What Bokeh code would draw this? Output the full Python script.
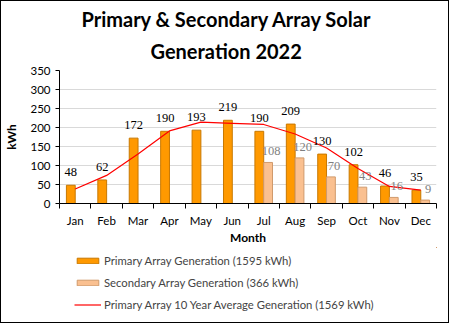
from bokeh.plotting import figure
from bokeh.layouts import column
from bokeh.models import (ColumnDataSource, LabelSet, Legend, LegendItem, Title,
                          FixedTicker, Range1d)
from bokeh.transform import dodge
from bokeh.embed import file_html
from bokeh.resources import INLINE

months = ["Jan", "Feb", "Mar", "Apr", "May", "Jun",
          "Jul", "Aug", "Sep", "Oct", "Nov", "Dec"]
primary = [48, 62, 172, 190, 193, 219, 190, 209, 130, 102, 46, 35]
secondary = [0, 0, 0, 0, 0, 0, 108, 120, 70, 43, 16, 9]
average = [38, 74, 130, 191, 214, 211, 208, 183, 146, 92, 45, 35]
y_ticks = [0, 50, 100, 150, 200, 250, 300, 350]
title_lines = ["Primary & Secondary Array Solar", "Generation 2022"]
legend_labels = ["Primary Array Generation (1595 kWh)",
                 "Secondary Array Generation (366 kWh)",
                 "Primary Array 10 Year Average Generation (1569 kWh)"]

FONT = "Lato"
PRIMARY_FILL, PRIMARY_LINE = "#FF9900", "#C87800"
SECOND_FILL, SECOND_LINE = "#FAC090", "#D09A6C"

pos = [i + 0.5 for i in range(len(months))]
src = ColumnDataSource(dict(
    x=pos, primary=primary, secondary=secondary, average=average,
    plabel=[str(v) for v in primary],
    slabel=[str(v) if v else "" for v in secondary],
))

p = figure(width=447, height=246, x_range=Range1d(0, 12), y_range=Range1d(0, 350),
           output_backend="svg", toolbar_location=None, title=None,
           min_border_left=56, min_border_right=12, min_border_top=69,
           min_border_bottom=43)
p.outline_line_color = None
p.background_fill_color = "white"
p.border_fill_color = "white"


def make_title(txt, off, so):
    t = Title(text=txt, align="left", offset=off, text_font=FONT,
              text_font_size="20px", text_font_style="bold",
              text_line_height=1.0, text_color="#000000", standoff=0)
    try:
        t.standoff = so
    except Exception:
        pass
    return t


# two title lines (first added sits nearest the frame)
for txt, off, so in zip(reversed(title_lines), [91, 22], [16, -4]):
    p.add_layout(make_title(txt, off, so), "above")

bw = 0.28
bar_kw = dict(source=src, width=bw, line_width=1)
r1 = p.vbar(x=dodge("x", -bw / 2, range=p.x_range), top="primary",
            fill_color=PRIMARY_FILL, line_color=PRIMARY_LINE, **bar_kw)
r2 = p.vbar(x=dodge("x", bw / 2, range=p.x_range), top="secondary",
            fill_color=SECOND_FILL, line_color=SECOND_LINE, **bar_kw)
r3 = p.line(x="x", y="average", source=src, line_color="#FF0000", line_width=1.2)

p.add_layout(LabelSet(x=dodge("x", -bw / 2, range=p.x_range), y="primary", text="plabel",
                      source=src, text_align="center", text_baseline="middle",
                      y_offset=13, text_font=FONT, text_font_size="12.5px",
                      text_color="#000000"))
p.add_layout(LabelSet(x=dodge("x", bw / 2, range=p.x_range), y="secondary", text="slabel",
                      source=src, text_align="center", text_baseline="middle",
                      x_offset=3, y_offset=11, text_font=FONT, text_font_size="12.5px",
                      text_color="#7F7F7F"))

# axes
p.xgrid.grid_line_color = None
p.ygrid.grid_line_color = "#D9D9D9"
p.yaxis.ticker = FixedTicker(ticks=y_ticks)
p.yaxis.minor_tick_line_color = None
p.yaxis.major_tick_in = 0
p.yaxis.major_tick_out = 4
p.yaxis.axis_label = "kWh"
p.xaxis.ticker = FixedTicker(ticks=pos, minor_ticks=list(range(13)))
p.xaxis.major_label_overrides = {v: m for v, m in zip(pos, months)}
p.xaxis.major_tick_line_color = None
p.xaxis.minor_tick_in = 0
p.xaxis.minor_tick_out = 5
p.xaxis.minor_tick_line_color = "#000000"
p.xaxis.axis_label = "Month"
for ax in (p.xaxis, p.yaxis):
    ax.axis_line_color = "#000000"
    ax.major_label_text_font = FONT
    ax.major_label_text_font_size = "11.5px"
    ax.major_label_text_color = "#000000"
    ax.axis_label_text_font = FONT
    ax.axis_label_text_font_size = "12px"
    ax.axis_label_text_font_style = "bold"
    ax.axis_label_text_color = "#000000"
p.xaxis.major_label_standoff = 4
p.xaxis.axis_label_standoff = 0
p.yaxis.major_label_standoff = 5
p.yaxis.axis_label_standoff = 8

# legend figure underneath (glyph copies kept outside its visible ranges)
lg = figure(width=447, height=75, x_range=Range1d(-10, -9), y_range=Range1d(-10, -9),
            output_backend="svg", toolbar_location=None, title=None,
            x_axis_type=None, y_axis_type=None,
            min_border=0, outline_line_color=None)
lg.grid.visible = False
l1 = lg.vbar(x="x", top="primary", fill_color=PRIMARY_FILL, line_color=PRIMARY_LINE,
             **bar_kw)
l2 = lg.vbar(x="x", top="secondary", fill_color=SECOND_FILL, line_color=SECOND_LINE,
             **bar_kw)
l3 = lg.line(x="x", y="average", source=src, line_color="#FF0000", line_width=1.2)
legend = Legend(items=[LegendItem(label=t, renderers=[r])
                       for t, r in zip(legend_labels, [l1, l2, l3])],
                location=(15, 11), orientation="vertical", glyph_width=27,
                glyph_height=7, label_height=14, spacing=8,
                padding=0, margin=0, label_standoff=3, label_text_font=FONT,
                label_text_font_size="11.3px", border_line_color=None,
                background_fill_alpha=0)
lg.add_layout(legend)

layout = column(p, lg, spacing=0)
layout.styles = {"border": "1px solid #000000", "background-color": "white"}

open("out.html", "w").write(file_html(layout, INLINE))
